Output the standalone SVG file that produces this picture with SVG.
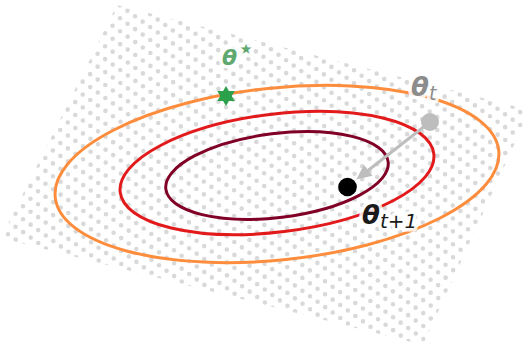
<svg xmlns="http://www.w3.org/2000/svg" width="524" height="343" viewBox="0 0 524 343">
<style>
.contour{fill:none;stroke-width:3}
.lbl{font-family:"DejaVu Sans",sans-serif;font-style:italic;font-weight:bold;paint-order:stroke;stroke:#fff;stroke-opacity:0.85;stroke-width:7;stroke-linejoin:round}
.sub{font-weight:normal}
.dl{stroke:#d9d9d9;stroke-width:4.6;stroke-linecap:round;stroke-dasharray:0 9.316}
</style>
<defs>
<clipPath id="planeClip"><polygon points="117,5 530,110 423,345 1,238"/></clipPath>
<line id="dl" class="dl" x1="104.86" y1="7.44" x2="498.5" y2="289.8"/>
</defs>
<rect width="524" height="343" fill="#fff"/>
<g id="plane" clip-path="url(#planeClip)">
<use href="#dl" transform="translate(-180,180)"/>
<use href="#dl" transform="translate(-172.5,172.5)"/>
<use href="#dl" transform="translate(-165,165)"/>
<use href="#dl" transform="translate(-157.5,157.5)"/>
<use href="#dl" transform="translate(-150,150)"/>
<use href="#dl" transform="translate(-142.5,142.5)"/>
<use href="#dl" transform="translate(-135,135)"/>
<use href="#dl" transform="translate(-127.5,127.5)"/>
<use href="#dl" transform="translate(-120,120)"/>
<use href="#dl" transform="translate(-112.5,112.5)"/>
<use href="#dl" transform="translate(-105,105)"/>
<use href="#dl" transform="translate(-97.5,97.5)"/>
<use href="#dl" transform="translate(-90,90)"/>
<use href="#dl" transform="translate(-82.5,82.5)"/>
<use href="#dl" transform="translate(-75,75)"/>
<use href="#dl" transform="translate(-67.5,67.5)"/>
<use href="#dl" transform="translate(-60,60)"/>
<use href="#dl" transform="translate(-52.5,52.5)"/>
<use href="#dl" transform="translate(-45,45)"/>
<use href="#dl" transform="translate(-37.5,37.5)"/>
<use href="#dl" transform="translate(-30,30)"/>
<use href="#dl" transform="translate(-22.5,22.5)"/>
<use href="#dl" transform="translate(-15,15)"/>
<use href="#dl" transform="translate(-7.5,7.5)"/>
<use href="#dl"/>
<use href="#dl" transform="translate(7.5,-7.5)"/>
<use href="#dl" transform="translate(15,-15)"/>
<use href="#dl" transform="translate(22.5,-22.5)"/>
<use href="#dl" transform="translate(30,-30)"/>
<use href="#dl" transform="translate(37.5,-37.5)"/>
<use href="#dl" transform="translate(45,-45)"/>
<use href="#dl" transform="translate(52.5,-52.5)"/>
<use href="#dl" transform="translate(60,-60)"/>
<use href="#dl" transform="translate(67.5,-67.5)"/>
<use href="#dl" transform="translate(75,-75)"/>
<use href="#dl" transform="translate(82.5,-82.5)"/>
<use href="#dl" transform="translate(90,-90)"/>
<use href="#dl" transform="translate(97.5,-97.5)"/>
<use href="#dl" transform="translate(105,-105)"/>
<use href="#dl" transform="translate(112.5,-112.5)"/>
<use href="#dl" transform="translate(120,-120)"/>
</g>
<g id="contours">
<ellipse id="c-outer" class="contour" cx="277" cy="174" rx="223" ry="86" transform="rotate(-6 277 174)" stroke="#fd8d3c"/>
<ellipse id="c-mid" class="contour" cx="277" cy="173" rx="158" ry="59" transform="rotate(-7 277 173)" stroke="#e31a1c"/>
<ellipse id="c-inner" class="contour" cx="277" cy="175.5" rx="112" ry="42" transform="rotate(-7 277 175.5)" stroke="#800026"/>
</g>
<g id="connectors">
<line x1="430" y1="122" x2="368" y2="170.5" stroke="#bdbdbd" stroke-width="3"/>
<polygon points="356.4,179.6 372.5,175.8 363.9,164.8" fill="#bdbdbd"/>
</g>
<g id="theta-star">
<polygon points="226,86 228.9,91 234.7,91 231.8,96 234.7,101 228.9,101 226,106 223.1,101 217.3,101 220.2,96 217.3,91 223.1,91" fill="#2ca04b"/>
<text class="lbl" x="222" y="65" font-size="22" fill="#5fa870">θ<tspan class="sub" font-size="28" dy="-7">⋆</tspan></text>
</g>
<g id="theta-t">
<circle cx="430" cy="122" r="9" fill="#bdbdbd"/>
<text class="lbl" x="411" y="96" font-size="26" fill="#8c8c8c">θ<tspan class="sub" font-size="19" dy="4">t</tspan></text>
</g>
<g id="theta-t1">
<circle cx="347.5" cy="187" r="9.3" fill="#000"/>
<text class="lbl" x="362" y="224" font-size="26" fill="#1a1a1a">θ<tspan class="sub" font-size="20" dy="4">t+1</tspan></text>
</g>
</svg>
